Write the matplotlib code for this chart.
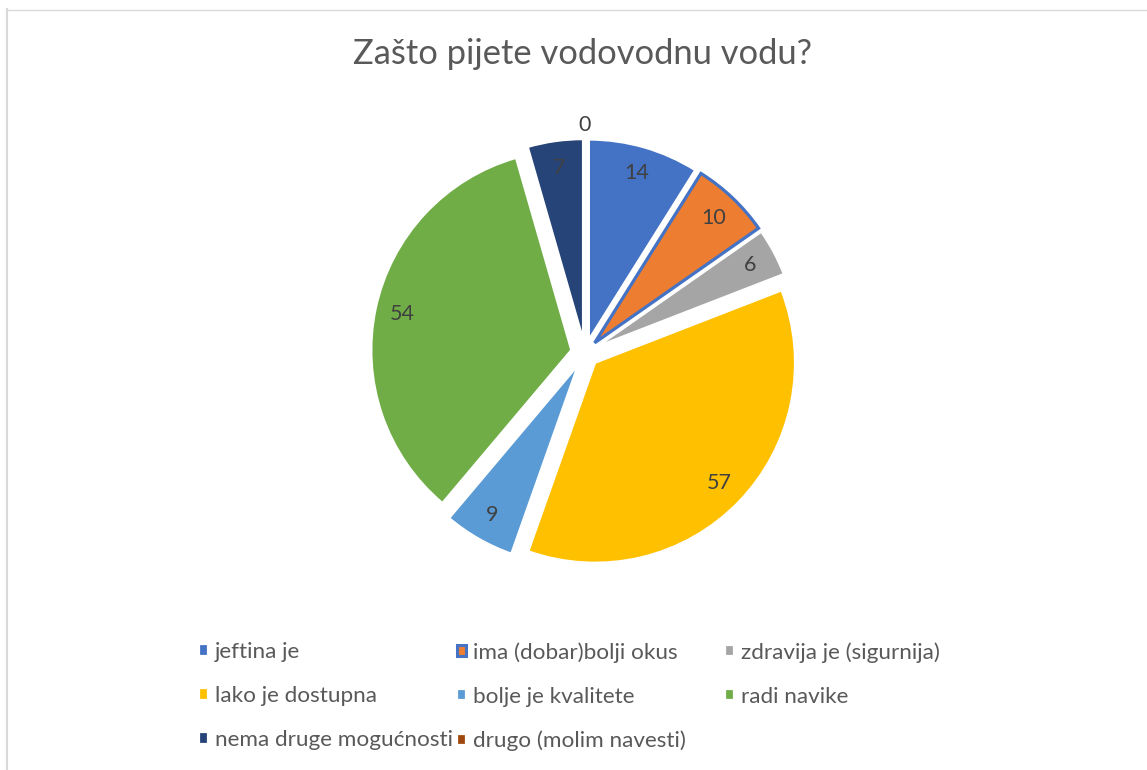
import matplotlib
matplotlib.use("Agg")
import matplotlib.pyplot as plt
import numpy as np
from matplotlib.lines import Line2D

categories = ["jeftina je", "ima (dobar)bolji okus", "zdravija je (sigurnija)",
              "lako je dostupna", "bolje je kvalitete", "radi navike",
              "nema druge mogućnosti", "drugo (molim navesti)"]
values = [14, 10, 6, 57, 9, 54, 7, 0]
colors = ["#4472C4", "#ED7D31", "#A5A5A5", "#FFC000", "#5B9BD5", "#70AD47",
          "#264478", "#9E480E"]
title = "Zašto pijete vodovodnu vodu?"

FONT = ["Lato", "DejaVu Sans"]
plt.rcParams['font.family'] = FONT

W, H = 1147, 770
fig = plt.figure(figsize=(W / 100, H / 100), dpi=100)
fig.patch.set_facecolor("white")

# chart border (left and top only visible)
fig.add_artist(Line2D([7.5 / W, 7.5 / W], [0, 1 - 9 / H], transform=fig.transFigure,
                      color="#D9D9D9", lw=1.5))
fig.add_artist(Line2D([7.5 / W, 1], [1 - 9.5 / H, 1 - 9.5 / H], transform=fig.transFigure,
                      color="#D9D9D9", lw=1.0))

cx, cy, R = 585, 353, 194
box = 500
ax = fig.add_axes([(cx - box / 2) / W, (H - cy - box / 2) / H, box / W, box / H])
lim = box / 2 / R
ax.set_xlim(-lim, lim)
ax.set_ylim(-lim, lim)
ax.set_aspect("equal")
ax.axis("off")

explode = [0.07] * len(values)
wedges, _ = ax.pie(values, colors=colors, startangle=90, counterclock=False,
                   explode=explode, radius=1.0,
                   wedgeprops=dict(edgecolor="white", linewidth=1.6))
# orange slice has a blue outline
wedges[1].set_edgecolor("#4472C4")
wedges[1].set_linewidth(2.3)
wedges[1].set_zorder(3)

for w, v in zip(wedges, values):
    mid = np.deg2rad((w.theta1 + w.theta2) / 2)
    d = 0.865 if v > 0 else 1.07
    x = w.center[0] + d * np.cos(mid)
    y = w.center[1] + d * np.sin(mid)
    ax.text(x, y, str(v), ha="center", va="center", fontsize=15.5, color="#404040")

fig.text(583 / W, 1 - 54 / H, title, ha="center", va="center", fontsize=24.8,
         color="#595959")

# legend laid out row-wise in three columns
col_x = [199, 457, 725]
for k in range(3):
    idx = list(range(k, len(categories), 3))
    leg = fig.legend([wedges[i] for i in idx], [categories[i] for i in idx],
                     ncol=1, loc="upper left",
                     bbox_to_anchor=(col_x[k] / W, 1 - 642 / H), frameon=False,
                     fontsize=16.2, handlelength=0.4, handleheight=0.4,
                     handletextpad=0.3, labelspacing=1.07,
                     borderpad=0, borderaxespad=0)
    for t in leg.get_texts():
        t.set_color("#595959")
    for h, i in zip(leg.legend_handles, idx):
        if i == 1:
            h.set_linewidth(2.2)
            h.set_edgecolor("#4472C4")

fig.savefig("out.png", dpi=100, facecolor="white")
